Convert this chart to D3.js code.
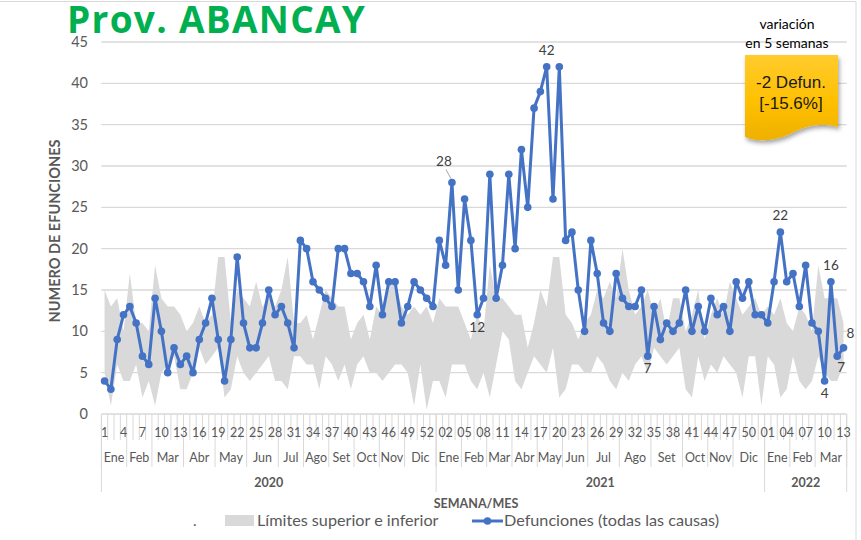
<!DOCTYPE html>
<html>
<head>
<meta charset="utf-8">
<script src="https://cdn.jsdelivr.net/npm/d3@7"></script>
<style>
  html, body { margin: 0; padding: 0; background: #fff; }
  svg { display: block; font-family: Lato, "Open Sans", sans-serif; }
</style>
</head>
<body>
<svg id="chart" width="861" height="540"></svg>
<script>
// Weekly deaths, Prov. ABANCAY: 2020 (53 weeks), 2021 (52 weeks), 2022 (13 weeks)
const deaths2020 = [4,3,9,12,13,11,7,6,14,10,5,8,6,7,5,9,11,14,9,4,9,19,11,8,8,11,15,12,13,11,8,21,20,16,15,14,13,20,20,17,17,16,13,18,12,16,16,11,13,16,15,14,13];
const deaths2021 = [21,18,28,15,26,21,12,14,29,14,18,29,20,32,25,37,39,42,26,42,21,22,15,10,21,17,11,10,17,14,13,13,15,7,13,9,11,10,11,15,10,13,10,14,12,13,10,16,14,16,12,12];
const deaths2022 = [11,16,22,16,17,13,18,11,10,4,16,7,8];

// Expected-range band (upper and lower limits) per week
const upper2020 = [15,13,14,10,17,11,11,10,18,14,13,13,12,10,11,13,11,12,19,19,11,15,14,13,16,13,14,13,15,19,11,11,12,9,12,15,14,13,13,9,11,12,9,13,12,16,16,13,12,13,12,13,11];
const lower2020 = [5,1,6,4,4,6,2,4,1,5,6,7,3,3,5,8,6,7,8,2,3,7,5,4,5,6,7,4,4,3,7,7,6,6,3,7,6,4,6,3,6,7,5,5,4,5,6,6,5,1,6,0.5,4];
const upper2021 = [14,13,13,13,11,9,12,10,18,14,14,13,12,12,8,11,15,13,19,19,12,11,9,11,12,15,14,16,14,20,15,12,13,15,12,14,10,14,14,10,12,15,9,12,14,12,16,14,12,13,14,12];
const lower2021 = [4,2,6,6,6,4,3,5,2,6,10,9,4,3,5,7,6,5,8,2,3,6,6,5,5,7,6,4,3,5,4,6,7,5,8,7,6,7,8,3,2,7,4,6,5,7,6,5,2,7,7,1];
const upper2022 = [13,12,14,11,10,13,12,10,18,14,14,14,11];
const lower2022 = [7,6,2,3,7,4,3,4,7,5,4,4,6];

// Category axis: years, months (with their week counts)
const yearLabels = ["2020", "2021", "2022"];
const yearWeeks = [53, 52, 13];
const monthLabels = ["Ene","Feb","Mar","Abr","May","Jun","Jul","Ago","Set","Oct","Nov","Dic",
                     "Ene","Feb","Mar","Abr","May","Jun","Jul","Ago","Set","Oct","Nov","Dic",
                     "Ene","Feb","Mar"];
const monthWeeks = [4,4,5,5,5,5,4,4,4,4,4,5,
                    4,4,4,4,4,4,5,5,5,4,4,5,
                    4,4,5];
const yTicks = [0,5,10,15,20,25,30,35,40,45];

// Point labels: [index in full series, placement]
const pointLabels = [[55,"leader"],[59,"below"],[70,"above"],[86,"below"],[107,"above"],[114,"below"],[115,"above"],[116,"belowright"],[117,"right"]];

const deaths = deaths2020.concat(deaths2021, deaths2022);
const upper = upper2020.concat(upper2021, upper2022);
const lower = lower2020.concat(lower2021, lower2022);

// week label text per category
const weekLabels = [];
yearWeeks.forEach((n, yi) => {
  for (let w = 1; w <= n; w++) weekLabels.push(yi === 0 ? String(w) : String(w).padStart(2, "0"));
});

const svg = d3.select("#chart");
const plotLeft = 101.4, plotRight = 846.7, plotTop = 42, plotBottom = 414;

const x = d3.scaleBand().domain(d3.range(deaths.length)).range([plotLeft, plotRight]).paddingInner(0).paddingOuter(0);
const cx = i => x(i) + x.bandwidth() / 2;
const y = d3.scaleLinear().domain([0, 45]).range([plotBottom, plotTop]);

const gridColor = "#d9d9d9";
const textColor = "#595959";

// chart frame (top and right edges)
svg.append("line").attr("x1", 0).attr("x2", 856).attr("y1", 1.5).attr("y2", 1.5).attr("stroke", gridColor);
svg.append("line").attr("x1", 856).attr("x2", 856).attr("y1", 1.5).attr("y2", 540).attr("stroke", gridColor);

// horizontal gridlines
svg.append("g").selectAll("line").data(yTicks.filter(d => d > 0)).join("line")
  .attr("x1", plotLeft).attr("x2", plotRight)
  .attr("y1", d => y(d)).attr("y2", d => y(d))
  .attr("stroke", gridColor).attr("stroke-width", 1.3);

// y tick labels
svg.append("g").selectAll("text").data(yTicks).join("text")
  .attr("x", 88).attr("y", d => y(d) + 5)
  .attr("text-anchor", "end").attr("font-size", 14.5).attr("fill", textColor)
  .text(d => d);

// y axis title
svg.append("text")
  .attr("transform", "translate(60,231) rotate(-90)")
  .attr("text-anchor", "middle").attr("font-size", 14.5).attr("font-weight", "bold")
  .attr("fill", textColor).text("NUMERO DE EFUNCIONES");

// limits band
const area = d3.area().x((d, i) => cx(i)).y0((d, i) => y(lower[i])).y1(d => y(d));
svg.append("path").datum(upper).attr("d", area).attr("fill", "#d9d9d9");

// category axis line
svg.append("line").attr("x1", plotLeft).attr("x2", plotRight).attr("y1", plotBottom).attr("y2", plotBottom)
  .attr("stroke", gridColor).attr("stroke-width", 1.3);

const axisG = svg.append("g").attr("stroke", gridColor).attr("stroke-width", 1);
// week ticks
axisG.selectAll("line.wk").data(d3.range(deaths.length + 1)).join("line").attr("class", "wk")
  .attr("x1", i => plotLeft + i * x.bandwidth()).attr("x2", i => plotLeft + i * x.bandwidth())
  .attr("y1", plotBottom).attr("y2", 440);
// month boundaries
const monthStarts = [0];
monthWeeks.forEach(n => monthStarts.push(monthStarts[monthStarts.length - 1] + n));
axisG.selectAll("line.mo").data(monthStarts).join("line").attr("class", "mo")
  .attr("x1", i => plotLeft + i * x.bandwidth()).attr("x2", i => plotLeft + i * x.bandwidth())
  .attr("y1", 440).attr("y2", 467);
// year boundaries
const yearStarts = [0];
yearWeeks.forEach(n => yearStarts.push(yearStarts[yearStarts.length - 1] + n));
axisG.selectAll("line.yr").data(yearStarts).join("line").attr("class", "yr")
  .attr("x1", i => plotLeft + i * x.bandwidth()).attr("x2", i => plotLeft + i * x.bandwidth())
  .attr("y1", plotBottom).attr("y2", 492);

// week labels every third week
svg.append("g").selectAll("text").data(d3.range(0, deaths.length, 3)).join("text")
  .attr("x", i => cx(i)).attr("y", 437)
  .attr("text-anchor", "middle").attr("font-size", 12.5).attr("fill", textColor)
  .text(i => weekLabels[i]);

// month labels
svg.append("g").selectAll("text").data(monthLabels).join("text")
  .attr("x", (d, i) => plotLeft + (monthStarts[i] + monthWeeks[i] / 2) * x.bandwidth())
  .attr("y", 462)
  .attr("text-anchor", "middle").attr("font-size", 12.5).attr("fill", textColor)
  .text(d => d);

// year labels
svg.append("g").selectAll("text").data(yearLabels).join("text")
  .attr("x", (d, i) => plotLeft + (yearStarts[i] + yearWeeks[i] / 2) * x.bandwidth())
  .attr("y", 487)
  .attr("text-anchor", "middle").attr("font-size", 12.5).attr("font-weight", "bold").attr("fill", textColor)
  .text(d => d);

// x axis title
svg.append("text").attr("x", 476).attr("y", 508).attr("text-anchor", "middle")
  .attr("font-size", 12.5).attr("font-weight", "bold").attr("fill", textColor).text("SEMANA/MES");

// deaths line + markers
const blue = "#4472c4";
const line = d3.line().x((d, i) => cx(i)).y(d => y(d));
svg.append("path").datum(deaths).attr("d", line)
  .attr("fill", "none").attr("stroke", blue).attr("stroke-width", 3).attr("stroke-linejoin", "round");
svg.append("g").selectAll("circle").data(deaths).join("circle")
  .attr("cx", (d, i) => cx(i)).attr("cy", d => y(d)).attr("r", 3.8).attr("fill", blue);

// point value labels
const lbl = svg.append("g").attr("font-size", 13.5).attr("fill", "#404040");
pointLabels.forEach(([i, pos]) => {
  const px = cx(i), py = y(deaths[i]);
  let tx = px, ty = py, anchor = "middle";
  if (pos === "above") ty = py - 12;
  else if (pos === "below") ty = py + 17;
  else if (pos === "belowright") { tx = px + 4; ty = py + 16; }
  else if (pos === "right") { tx = px + 3; ty = py - 10; anchor = "start"; }
  else if (pos === "leader") {
    tx = px - 8; ty = py - 17;
    svg.append("line").attr("x1", px - 6).attr("y1", py - 13).attr("x2", px - 1).attr("y2", py - 4)
      .attr("stroke", "#a6a6a6").attr("stroke-width", 1);
  }
  lbl.append("text").attr("x", tx).attr("y", ty).attr("text-anchor", anchor).text(deaths[i]);
});

// legend
const lg = svg.append("g");
lg.append("text").attr("x", 193).attr("y", 526).attr("font-size", 15).attr("fill", textColor).text(".");
lg.append("rect").attr("x", 225).attr("y", 515).attr("width", 29).attr("height", 11).attr("fill", "#d9d9d9");
lg.append("text").attr("x", 257).attr("y", 526).attr("font-size", 16.2).attr("fill", textColor).text("Límites superior e inferior");
lg.append("line").attr("x1", 472).attr("x2", 503).attr("y1", 521).attr("y2", 521).attr("stroke", blue).attr("stroke-width", 3);
lg.append("circle").attr("cx", 487.5).attr("cy", 521).attr("r", 3.8).attr("fill", blue);
lg.append("text").attr("x", 504).attr("y", 526).attr("font-size", 16.2).attr("fill", textColor).text("Defunciones (todas las causas)");

// title
svg.append("text").attr("x", 67).attr("y", 33)
  .attr("font-family", "'Open Sans', Lato, sans-serif")
  .attr("font-size", 37).attr("font-weight", "bold").attr("letter-spacing", 1.3).attr("fill", "#00b050")
  .text("Prov. ABANCAY");

// five-week change callout
svg.append("text").attr("x", 787).attr("y", 29).attr("text-anchor", "middle")
  .attr("font-size", 14).attr("fill", "#000").text("variación");
svg.append("text").attr("x", 787).attr("y", 48).attr("text-anchor", "middle")
  .attr("font-size", 14).attr("fill", "#000").text("en 5 semanas");

const defs = svg.append("defs");
const grad = defs.append("linearGradient").attr("id", "gold").attr("x1", 0).attr("y1", 0).attr("x2", 0).attr("y2", 1);
grad.append("stop").attr("offset", "0%").attr("stop-color", "#ffcb2e");
grad.append("stop").attr("offset", "55%").attr("stop-color", "#ffc000");
grad.append("stop").attr("offset", "100%").attr("stop-color", "#efb000");
const shadow = defs.append("filter").attr("id", "shadow").attr("x", "-20%").attr("y", "-20%").attr("width", "150%").attr("height", "150%");
shadow.append("feDropShadow").attr("dx", 1.5).attr("dy", 3).attr("stdDeviation", 2)
  .attr("flood-color", "#000").attr("flood-opacity", 0.35);

svg.append("path")
  .attr("d", "M745,55 H838 V127 C822,122 805,126 792,133 C778,140 760,143 745,137 Z")
  .attr("fill", "url(#gold)").attr("filter", "url(#shadow)");
svg.append("text").attr("x", 791).attr("y", 88).attr("text-anchor", "middle")
  .attr("font-family", "'Liberation Sans', Arial, sans-serif").attr("font-size", 17).attr("fill", "#1a1a1a").text("-2 Defun.");
svg.append("text").attr("x", 791).attr("y", 109).attr("text-anchor", "middle")
  .attr("font-family", "'Liberation Sans', Arial, sans-serif").attr("font-size", 17).attr("fill", "#1a1a1a").text("[-15.6%]");
</script>
</body>
</html>
